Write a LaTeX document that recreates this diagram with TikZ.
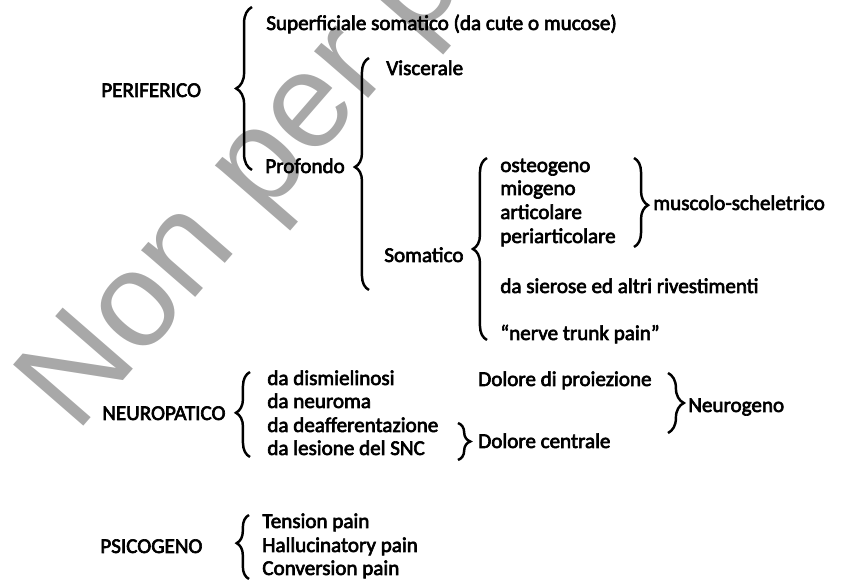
\documentclass[tikz,border=0pt]{standalone}
\usepackage{fontspec}
\setmainfont{Carlito}[FakeBold=3]
\newfontfamily\filigranafont{Liberation Sans}
\usetikzlibrary{decorations.pathreplacing}

\tikzset{
voce/.style={anchor=base west, inner sep=0pt, font=\fontsize{12}{14}\selectfont},
titolo/.style={voce},
graffa/.style={decorate, decoration={brace, amplitude=#1}, line width=1.4pt},
graffa/.default=8,
filigrana/.style={anchor=base west, inner sep=0pt, rotate=49, text=black!34,
  font=\filigranafont\fontsize{77}{77}\selectfont},
}

\begin{document}
\begin{tikzpicture} [x=0.02cm,y=-0.02cm]
\useasboundingbox (0,0) rectangle (846,580);
		% watermark
\node[filigrana] (nonper) at (76,435) {Non per pu};

		% periferico
\node[titolo] (perif) at (101,97) {PERIFERICO};
\draw[graffa=9] (252,170) -- (252,7);
\node[voce] (superf) at (266,30) {Superficiale somatico (da cute o mucose)};
\node[voce] (profondo) at (265,173) {Profondo};
\draw[graffa, decoration={aspect=0.53}] (369,290) -- (369,58);
\node[voce] (viscer) at (386,75) {Viscerale};
\node[voce] (somatico) at (384,262) {Somatico};
\draw[graffa] (487,340) -- (487,158);
\node[voce] (osteo) at (500,172) {osteogeno};
\node[voce] (miog) at (500,195) {miogeno};
\node[voce] (artic) at (500,219) {articolare};
\node[voce] (periart) at (500,243) {periarticolare};
\draw[graffa, decoration={aspect=0.53}] (634,158) -- (634,247);
\node[voce] (muscolo) at (653,210) {muscolo-scheletrico};
\node[voce] (sierose) at (500,293) {da sierose ed altri rivestimenti};
\node[voce] (nervo) at (500,340) {“nerve trunk pain”};

		% neuropatico
\node[titolo] (neuro) at (102,420) {NEUROPATICO};
\draw[graffa, decoration={aspect=0.52}] (250,457) -- (250,372);
\node[voce] (dismiel) at (267,385) {da dismielinosi};
\node[voce] (neuroma) at (267,408) {da neuroma};
\node[voce] (deaff) at (267,432) {da deafferentazione};
\node[voce] (lesione) at (267,455) {da lesione del SNC};
\draw[graffa=7] (458,423) -- (458,460);
\node[voce] (proiez) at (478,386) {Dolore di proiezione};
\node[voce] (centrale) at (478,448) {Dolore centrale};
\draw[graffa=9] (668,373) -- (668,433);
\node[voce] (neurog) at (688,412) {Neurogeno};

		% psicogeno
\node[titolo] (psico) at (100,553) {PSICOGENO};
\draw[graffa=7, decoration={aspect=0.56}] (249,579) -- (249,515);
\node[voce] (tension) at (262,528) {Tension pain};
\node[voce] (halluc) at (262,552) {Hallucinatory pain};
\node[voce] (conv) at (262,575) {Conversion pain};
	\end{tikzpicture}
\end{document}
